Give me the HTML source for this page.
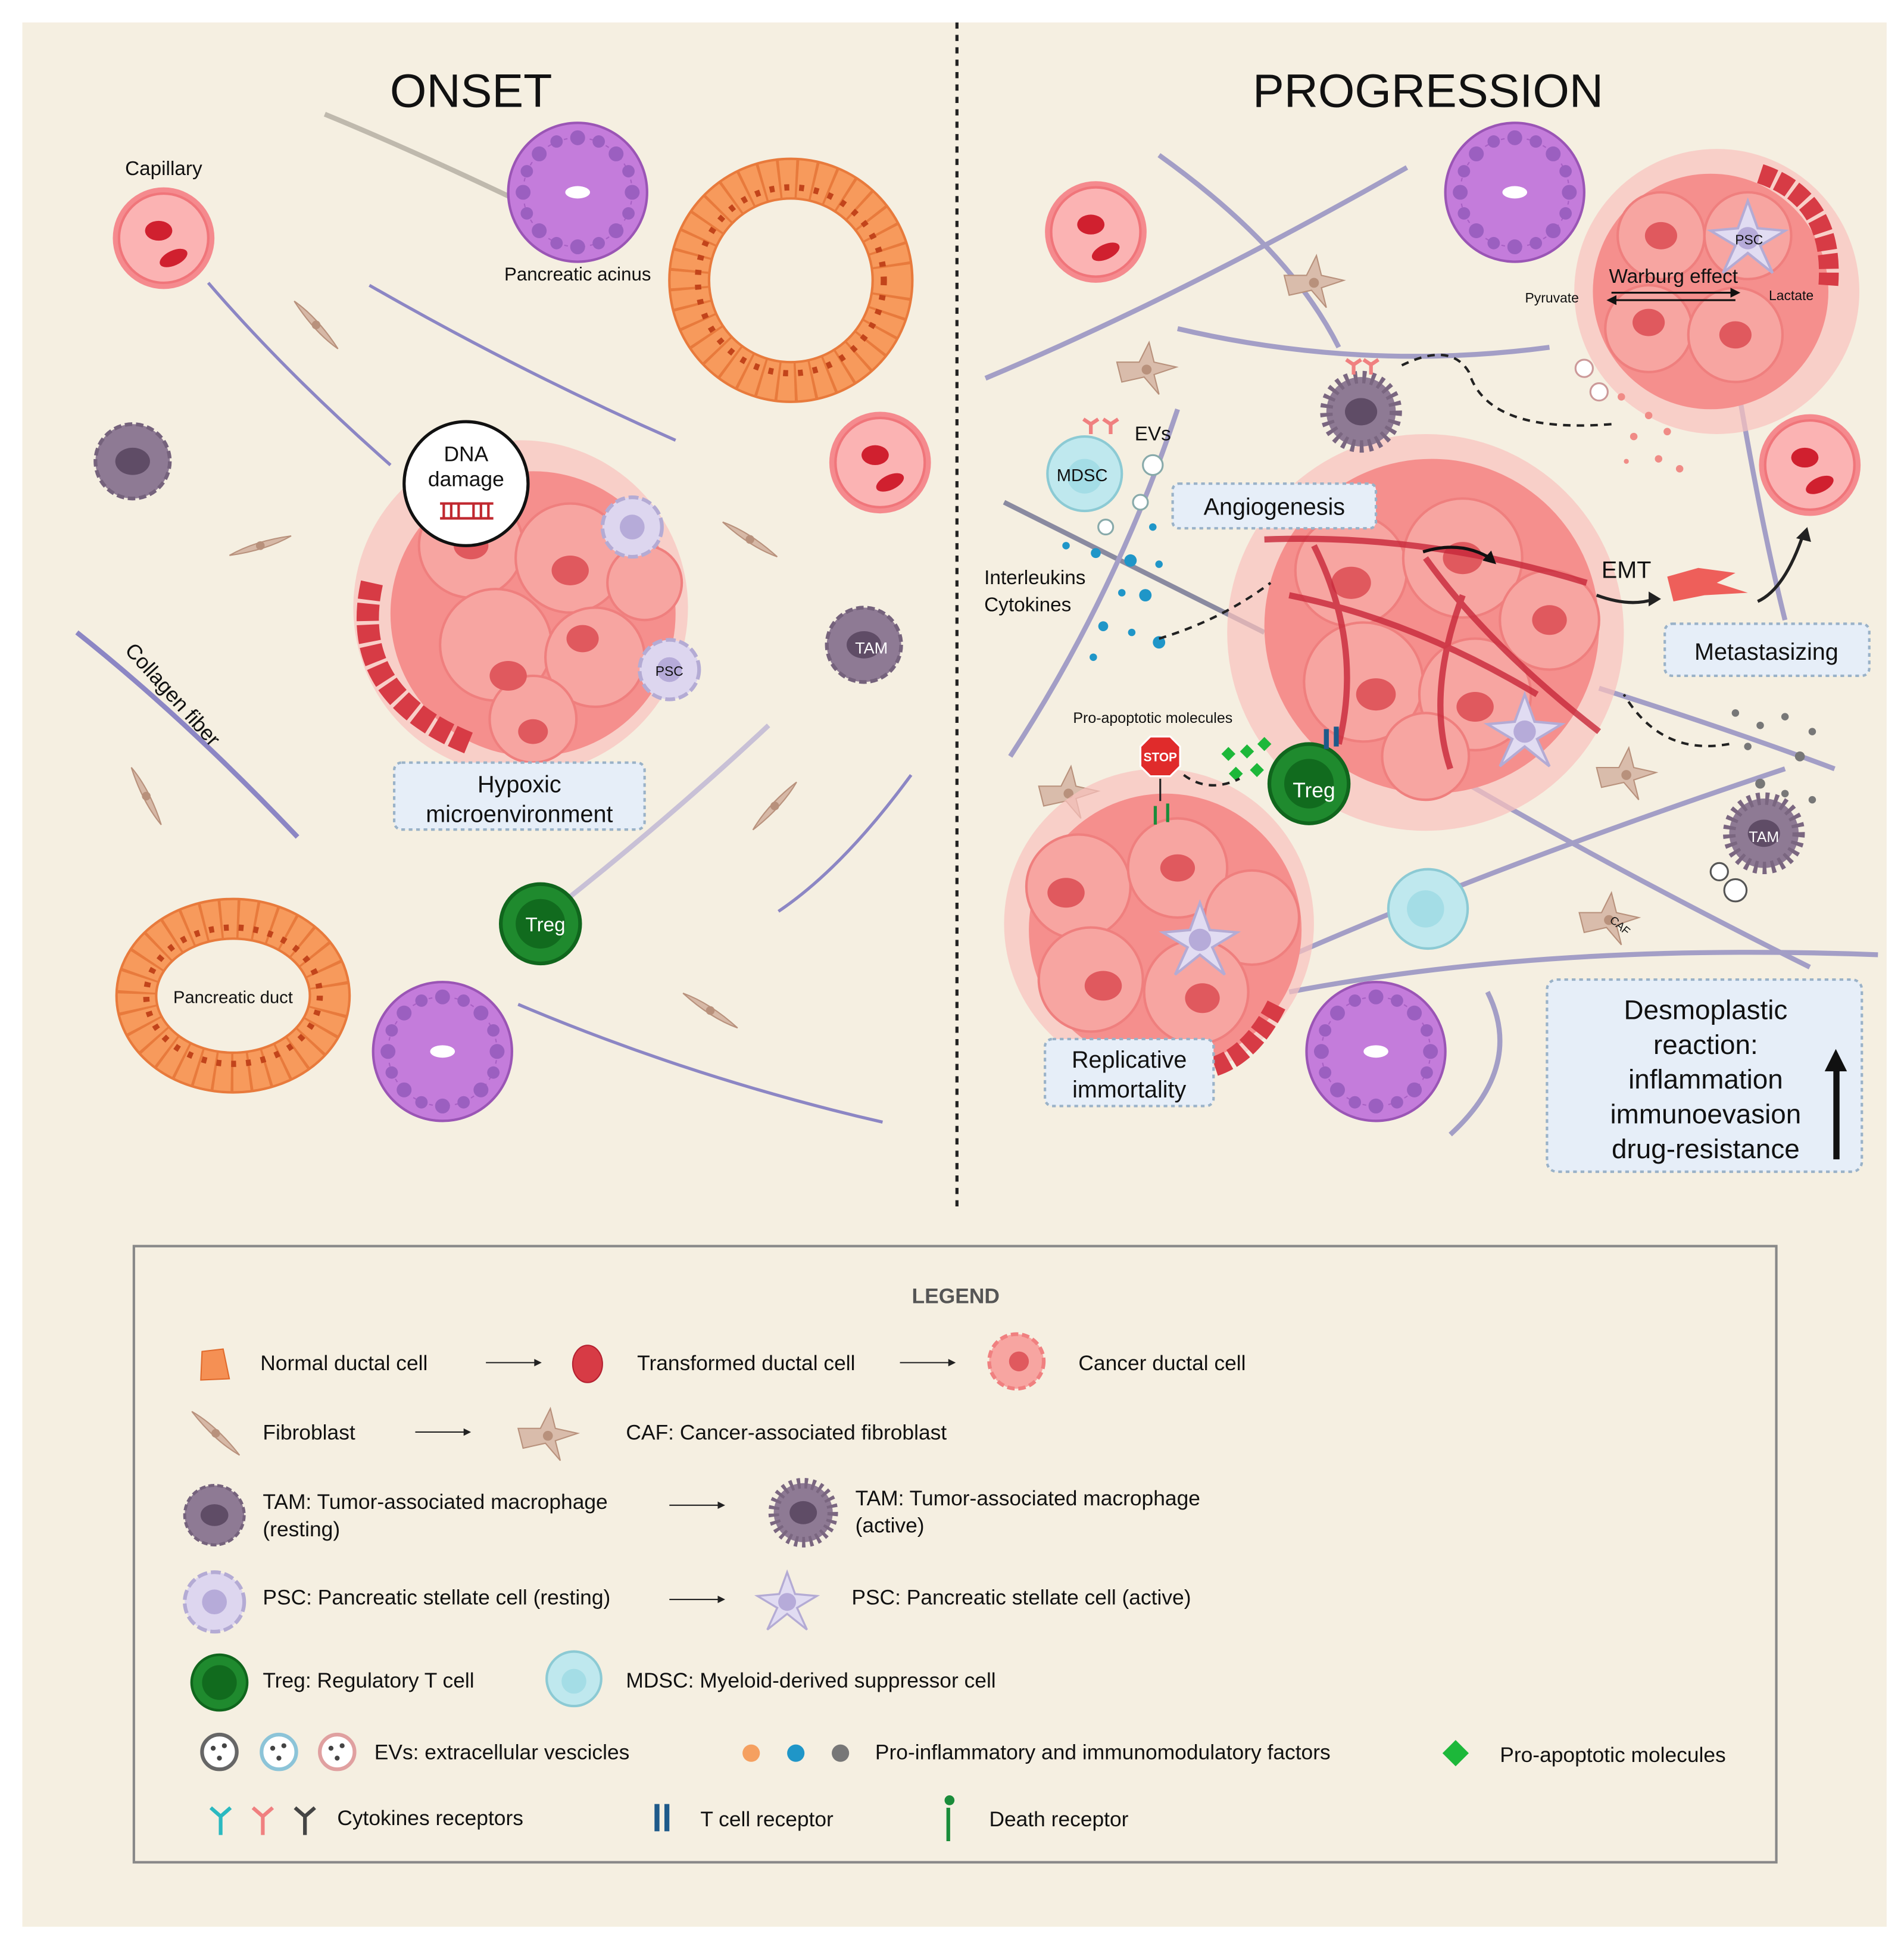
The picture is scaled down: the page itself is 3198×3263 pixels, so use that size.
<!DOCTYPE html>
<html><head><meta charset="utf-8"><style>
html,body{margin:0;padding:0;background:#fff}
svg{display:block}
text{font-family:"Liberation Sans",sans-serif;fill:#111}
</style></head><body>
<svg width="3198" height="3263" viewBox="0 0 1536 1567" xmlns="http://www.w3.org/2000/svg">
<defs>
<g id="acinus">
<circle r="56" fill="#c47cdb" stroke="#9a55b5" stroke-width="2"/>
<circle r="44" fill="none" stroke="#a860c4" stroke-width="1" stroke-dasharray="3 4"/>
<g fill="#9b5fc0">
<circle cx="0" cy="-44" r="6"/><circle cx="31" cy="-31" r="6"/><circle cx="44" cy="0" r="6"/><circle cx="31" cy="31" r="6"/>
<circle cx="0" cy="44" r="6"/><circle cx="-31" cy="31" r="6"/><circle cx="-44" cy="0" r="6"/><circle cx="-31" cy="-31" r="6"/>
<circle cx="17" cy="-41" r="5"/><circle cx="41" cy="-17" r="5"/><circle cx="41" cy="17" r="5"/><circle cx="17" cy="41" r="5"/>
<circle cx="-17" cy="41" r="5"/><circle cx="-41" cy="17" r="5"/><circle cx="-41" cy="-17" r="5"/><circle cx="-17" cy="-41" r="5"/>
</g>
<ellipse rx="10" ry="5" fill="#fff"/>
</g>
<g id="cap">
<circle r="41" fill="#f58a8e"/>
<circle r="36" fill="#fbb3b3" stroke="#f0757a" stroke-width="2"/>
<ellipse cx="-4" cy="-6" rx="11" ry="8" fill="#d0202f"/>
<ellipse cx="8" cy="16" rx="12" ry="6" fill="#d0202f" transform="rotate(-25 8 16)"/>
</g>
<g id="fib">
<path d="M-22 -14 Q0 -6 22 14 Q0 6 -22 -14Z" fill="#d6b8a6" stroke="#b8917c" stroke-width="1"/>
<circle r="3.5" fill="#b8917c"/>
</g>
<g id="caf">
<path d="M-24 -6 L-6 -6 L2 -22 L6 -6 L24 -2 L6 4 L10 20 L-2 6 L-20 10 Z" fill="#d9bcab" stroke="#b8917c" stroke-width="1"/>
<circle r="4" fill="#b8917c"/>
</g>
<g id="tamr">
<circle r="30" fill="#8e7a94" stroke="#75627c" stroke-width="3" stroke-dasharray="6 3"/>
<ellipse rx="14" ry="11" fill="#5f4c66"/>
</g>
<g id="tama">
<circle r="28" fill="#8e7a94" stroke="#7a6680" stroke-width="10" stroke-dasharray="3 4"/>
<ellipse rx="13" ry="11" fill="#5f4c66"/>
</g>
<g id="treg">
<circle r="32" fill="#1f8a2e" stroke="#10661d" stroke-width="3"/>
<circle r="20" fill="#116b1e"/>
</g>
<g id="pscr">
<circle r="24" fill="#ddd6ef" stroke="#b4abd4" stroke-width="3" stroke-dasharray="8 3"/>
<circle r="10" fill="#b6abd9"/>
</g>
<g id="psca">
<path d="M0 -30 L8 -8 L30 -6 L10 6 L20 28 L0 12 L-20 28 L-10 6 L-30 -6 L-8 -8Z" fill="#e1dcf2" stroke="#b4abd4" stroke-width="2"/>
<circle r="9" fill="#b6abd9"/>
</g>
<g id="cancer">
<circle r="1" fill="none"/>
</g>
</defs>

<rect width="1536" height="1567" fill="#fff"/>
<rect x="18" y="18" width="1504" height="1536" fill="#f5efe1"/>
<line x1="772" y1="18" x2="772" y2="978" stroke="#222" stroke-width="2.5" stroke-dasharray="5 5"/>
<text x="380" y="86" font-size="38" text-anchor="middle">ONSET</text>
<text x="1152" y="86" font-size="38" text-anchor="middle">PROGRESSION</text>

<!-- fibers onset -->
<g fill="none" stroke="#8c86c4" stroke-width="2.5">
<path d="M168 228 Q230 300 315 375"/>
<path d="M298 230 Q420 300 545 355"/>
<path d="M62 510 Q150 580 240 675" stroke-width="4"/>
<path d="M628 735 Q680 700 735 625"/>
<path d="M418 810 Q560 870 712 905"/>
<path d="M262 92 Q330 120 410 158" stroke="#bfb9ad" stroke-width="4"/>
<path d="M445 735 Q540 660 620 585" stroke="#c8c0d6" stroke-width="4"/>
</g>
<!-- fibers progression -->
<g fill="none" stroke="#a39ec6" stroke-width="4">
<path d="M795 305 Q950 240 1135 135"/>
<path d="M935 125 Q1040 200 1080 280"/>
<path d="M950 265 Q1100 300 1250 280"/>
<path d="M810 405 Q900 450 1020 510" stroke="#8a8aa0"/>
<path d="M815 610 Q900 480 950 330"/>
<path d="M1020 780 Q1200 700 1440 620"/>
<path d="M1040 800 Q1250 760 1515 770"/>
<path d="M1180 630 Q1300 700 1460 780"/>
<path d="M1200 800 Q1230 860 1170 915"/>
<path d="M1290 555 Q1400 590 1480 620"/>
<path d="M1400 300 Q1420 420 1440 500"/>
</g>

<!-- acini -->
<use href="#acinus" x="466" y="155"/>
<use href="#acinus" x="1222" y="155"/>
<use href="#acinus" x="357" y="848"/>
<use href="#acinus" x="1110" y="848"/>
<text x="466" y="226" font-size="15" text-anchor="middle">Pancreatic acinus</text>

<!-- ducts -->
<circle cx="638" cy="226" r="82" fill="none" stroke="#e87a3c" stroke-width="34"/>
<circle cx="638" cy="226" r="82" fill="none" stroke="#f79a5c" stroke-width="30" stroke-dasharray="12 2"/>
<circle cx="638" cy="226" r="75" fill="none" stroke="#c2441b" stroke-width="5" stroke-dasharray="4 8"/>
<ellipse cx="188" cy="803" rx="78" ry="62" fill="none" stroke="#e87a3c" stroke-width="34"/>
<ellipse cx="188" cy="803" rx="78" ry="62" fill="none" stroke="#f79a5c" stroke-width="30" stroke-dasharray="12 2"/>
<ellipse cx="188" cy="803" rx="70" ry="55" fill="none" stroke="#c2441b" stroke-width="5" stroke-dasharray="4 8"/>
<text x="188" y="809" font-size="14" text-anchor="middle">Pancreatic duct</text>

<!-- capillaries -->
<use href="#cap" x="132" y="192"/>
<use href="#cap" x="710" y="373"/>
<use href="#cap" x="884" y="187"/>
<use href="#cap" x="1460" y="375"/>
<text x="132" y="141" font-size="16" text-anchor="middle">Capillary</text>

<!-- fibroblasts onset -->
<use href="#fib" x="255" y="262" transform="rotate(15 255 262)"/>
<use href="#fib" x="210" y="440" transform="rotate(-50 210 440)"/>
<use href="#fib" x="605" y="435"/>
<use href="#fib" x="118" y="642" transform="rotate(30 118 642)"/>
<use href="#fib" x="625" y="650" transform="rotate(-80 625 650)"/>
<use href="#fib" x="573" y="815"/>
<!-- caf progression -->
<use href="#caf" x="1060" y="228"/>
<use href="#caf" x="925" y="298"/>
<use href="#caf" x="862" y="640"/>
<use href="#caf" x="1312" y="625"/>
<use href="#caf" x="1298" y="742"/>

<use href="#tamr" x="107" y="372"/>
<use href="#tamr" x="697" y="520"/>
<text x="703" y="527" font-size="13" fill="#fff" text-anchor="middle" style="fill:#fff">TAM</text>

<text x="100" y="525" font-size="17" transform="rotate(48 100 525)">Collagen fiber</text>

<!-- onset cluster -->
<g>
<circle cx="420" cy="490" r="135" fill="#f9c2bd" opacity="0.7"/>
<circle cx="430" cy="495" r="115" fill="#f58f8d"/>
<g fill="#f7a5a1" stroke="#ef7f7e" stroke-width="2">
<circle cx="380" cy="440" r="42"/><circle cx="460" cy="450" r="44"/><circle cx="400" cy="520" r="45"/><circle cx="480" cy="530" r="40"/><circle cx="430" cy="580" r="35"/><circle cx="520" cy="470" r="30"/>
</g>
<g fill="#e0595e"><ellipse cx="380" cy="440" rx="14" ry="11"/><ellipse cx="460" cy="460" rx="15" ry="12"/><ellipse cx="410" cy="545" rx="15" ry="12"/><ellipse cx="470" cy="515" rx="13" ry="11"/><ellipse cx="430" cy="590" rx="12" ry="10"/></g>
<path d="M300 470 Q280 560 380 600" fill="none" stroke="#d73b45" stroke-width="18" stroke-dasharray="14 3"/>
</g>
<use href="#pscr" x="510" y="425"/>
<use href="#pscr" x="540" y="540"/>
<text x="540" y="545" font-size="11" text-anchor="middle">PSC</text>
<circle cx="376" cy="390" r="50" fill="#fff" stroke="#111" stroke-width="2.5"/>
<text x="376" y="372" font-size="17" text-anchor="middle">DNA</text>
<text x="376" y="392" font-size="17" text-anchor="middle">damage</text>
<g stroke="#c0282f" stroke-width="2"><line x1="355" y1="406" x2="398" y2="406"/><line x1="355" y1="418" x2="398" y2="418"/><line x1="358" y1="406" x2="358" y2="418"/><line x1="364" y1="406" x2="364" y2="418"/><line x1="370" y1="406" x2="370" y2="418"/><line x1="382" y1="406" x2="382" y2="418"/><line x1="388" y1="406" x2="388" y2="418"/><line x1="394" y1="406" x2="394" y2="418"/></g>
<rect x="318" y="615" width="202" height="54" rx="6" fill="#e6eef8" stroke="#9ab2c8" stroke-width="2" stroke-dasharray="3 3"/>
<text x="419" y="639" font-size="19" text-anchor="middle">Hypoxic</text>
<text x="419" y="663" font-size="19" text-anchor="middle">microenvironment</text>
<use href="#treg" x="436" y="745"/>
<text x="440" y="751" font-size="16" style="fill:#fff" text-anchor="middle">Treg</text>

<!-- progression main cluster -->
<g>
<circle cx="1150" cy="510" r="160" fill="#f9c2bd" opacity="0.7"/>
<circle cx="1155" cy="505" r="135" fill="#f58f8d"/>
<g fill="#f7a5a1" stroke="#ef7f7e" stroke-width="2">
<circle cx="1090" cy="460" r="45"/><circle cx="1180" cy="450" r="48"/><circle cx="1250" cy="500" r="40"/><circle cx="1100" cy="550" r="48"/><circle cx="1190" cy="560" r="45"/><circle cx="1150" cy="610" r="35"/>
</g>
<g fill="#e0595e"><ellipse cx="1090" cy="470" rx="16" ry="13"/><ellipse cx="1180" cy="450" rx="16" ry="13"/><ellipse cx="1250" cy="500" rx="14" ry="12"/><ellipse cx="1110" cy="560" rx="16" ry="13"/><ellipse cx="1190" cy="570" rx="15" ry="12"/></g>
<g fill="none" stroke="#c8283a" stroke-width="5" opacity="0.8">
<path d="M1020 435 Q1150 430 1280 470"/><path d="M1060 440 Q1100 520 1080 600"/><path d="M1150 450 Q1200 520 1290 590"/><path d="M1040 480 Q1140 500 1240 560"/><path d="M1180 480 Q1150 560 1170 620"/>
</g>
</g>
<use href="#psca" x="1230" y="590"/>
<rect x="946" y="390" width="164" height="36" rx="5" fill="#e6eef8" stroke="#9ab2c8" stroke-width="2" stroke-dasharray="3 3"/>
<text x="1028" y="415" font-size="19" text-anchor="middle">Angiogenesis</text>
<path d="M1148 445 Q1180 435 1205 452" fill="none" stroke="#111" stroke-width="2.5"/>
<polygon points="1207,455 1196,452 1203,444" fill="#111"/>

<!-- warburg cluster -->
<g>
<circle cx="1385" cy="235" r="115" fill="#f9c2bd" opacity="0.7"/>
<circle cx="1380" cy="235" r="95" fill="#f58f8d"/>
<g fill="#f7a5a1" stroke="#ef7f7e" stroke-width="2">
<circle cx="1340" cy="190" r="35"/><circle cx="1410" cy="190" r="35"/><circle cx="1330" cy="265" r="35"/><circle cx="1400" cy="270" r="38"/>
</g>
<g fill="#e0595e"><ellipse cx="1340" cy="190" rx="13" ry="11"/><ellipse cx="1330" cy="260" rx="13" ry="11"/><ellipse cx="1400" cy="270" rx="13" ry="11"/></g>
<path d="M1420 140 Q1480 160 1475 230" fill="none" stroke="#d73b45" stroke-width="16" stroke-dasharray="12 3"/>
</g>
<use href="#psca" x="1410" y="192"/>
<text x="1411" y="197" font-size="11" text-anchor="middle">PSC</text>
<text x="1350" y="228" font-size="16" text-anchor="middle">Warburg effect</text>
<text x="1252" y="244" font-size="11" text-anchor="middle">Pyruvate</text>
<text x="1445" y="242" font-size="11" text-anchor="middle">Lactate</text>
<line x1="1300" y1="236" x2="1400" y2="236" stroke="#111" stroke-width="1.5"/>
<line x1="1300" y1="242" x2="1400" y2="242" stroke="#111" stroke-width="1.5"/>
<polygon points="1404,236 1396,232 1396,240" fill="#111"/>
<polygon points="1296,242 1304,238 1304,246" fill="#111"/>

<!-- replicative cluster -->
<g>
<circle cx="935" cy="745" r="125" fill="#f9c2bd" opacity="0.7"/>
<circle cx="940" cy="750" r="110" fill="#f58f8d"/>
<g fill="#f7a5a1" stroke="#ef7f7e" stroke-width="2">
<circle cx="870" cy="715" r="42"/><circle cx="950" cy="700" r="40"/><circle cx="1010" cy="740" r="38"/><circle cx="880" cy="790" r="42"/><circle cx="965" cy="800" r="42"/>
</g>
<g fill="#e0595e"><ellipse cx="860" cy="720" rx="15" ry="12"/><ellipse cx="950" cy="700" rx="14" ry="11"/><ellipse cx="890" cy="795" rx="15" ry="12"/><ellipse cx="970" cy="805" rx="14" ry="12"/></g>
<path d="M980 860 Q1010 850 1030 810" fill="none" stroke="#d73b45" stroke-width="16" stroke-dasharray="12 3"/>
</g>
<use href="#psca" x="968" y="758"/>
<rect x="843" y="838" width="136" height="54" rx="6" fill="#e6eef8" stroke="#9ab2c8" stroke-width="2" stroke-dasharray="3 3"/>
<text x="911" y="861" font-size="19" text-anchor="middle">Replicative</text>
<text x="911" y="885" font-size="19" text-anchor="middle">immortality</text>

<!-- other progression cells -->
<use href="#tama" x="1098" y="332"/>
<use href="#tama" x="1423" y="672"/>
<text x="1423" y="679" font-size="12" style="fill:#fff" text-anchor="middle">TAM</text>
<g stroke="#f08080" stroke-width="3" fill="none"><path d="M1092 302 v-10 M1086 290 l6 4 6 -4 M1106 302 v-10 M1100 290 l6 4 6 -4"/><path d="M880 350 v-10 M874 338 l6 4 6 -4 M896 350 v-10 M890 338 l6 4 6 -4"/></g>
<circle cx="875" cy="382" r="30" fill="#bfe8ee" stroke="#8ccad4" stroke-width="2"/>
<circle cx="875" cy="384" r="14" fill="#a4dde6"/>
<text x="873" y="388" font-size="14" text-anchor="middle">MDSC</text>
<text x="930" y="355" font-size="16" text-anchor="middle">EVs</text>
<circle cx="1152" cy="733" r="32" fill="#bfe8ee" stroke="#8ccad4" stroke-width="2"/>
<circle cx="1150" cy="733" r="15" fill="#a4dde6"/>
<use href="#treg" x="1056" y="632"/>
<text x="1060" y="643" font-size="17" style="fill:#fff" text-anchor="middle">Treg</text>
<g fill="#111"><rect x="1068" y="588" width="4" height="16" fill="#1e5a8a"/><rect x="1076" y="586" width="4" height="16" fill="#1e5a8a"/></g>

<!-- EVs small -->
<g fill="#fff" stroke="#8aa" stroke-width="1.5">
<circle cx="930" cy="375" r="8"/><circle cx="920" cy="405" r="6"/><circle cx="892" cy="425" r="6"/>
<circle cx="1278" cy="297" r="7" stroke="#c99"/><circle cx="1290" cy="316" r="7" stroke="#c99"/>
<circle cx="1387" cy="703" r="7" stroke="#555"/><circle cx="1400" cy="718" r="9" stroke="#555"/>
</g>
<!-- factors -->
<g fill="#1f96c8">
<circle cx="860" cy="440" r="3"/><circle cx="884" cy="446" r="4"/><circle cx="912" cy="452" r="5"/><circle cx="935" cy="455" r="3"/><circle cx="905" cy="478" r="3"/><circle cx="924" cy="480" r="5"/><circle cx="890" cy="505" r="4"/><circle cx="913" cy="510" r="3"/><circle cx="935" cy="518" r="5"/><circle cx="882" cy="530" r="3"/><circle cx="930" cy="425" r="3"/>
</g>
<g fill="#f08b86">
<circle cx="1308" cy="320" r="3"/><circle cx="1330" cy="335" r="3"/><circle cx="1318" cy="352" r="3"/><circle cx="1345" cy="348" r="3"/><circle cx="1338" cy="370" r="3"/><circle cx="1355" cy="378" r="3"/><circle cx="1312" cy="372" r="2"/>
</g>
<g fill="#777">
<circle cx="1400" cy="575" r="3"/><circle cx="1420" cy="585" r="3"/><circle cx="1440" cy="578" r="3"/><circle cx="1462" cy="590" r="3"/><circle cx="1410" cy="602" r="3"/><circle cx="1452" cy="610" r="4"/><circle cx="1420" cy="632" r="4"/><circle cx="1440" cy="640" r="3"/><circle cx="1462" cy="645" r="3"/>
</g>
<g fill="#1db83a">
<rect x="987" y="604" width="8" height="8" transform="rotate(45 991 608)"/><rect x="1002" y="602" width="8" height="8" transform="rotate(45 1006 606)"/><rect x="1016" y="596" width="8" height="8" transform="rotate(45 1020 600)"/><rect x="993" y="620" width="8" height="8" transform="rotate(45 997 624)"/><rect x="1010" y="617" width="8" height="8" transform="rotate(45 1014 621)"/>
</g>
<!-- dashed arrows -->
<g fill="none" stroke="#222" stroke-width="2" stroke-dasharray="6 5">
<path d="M935 515 Q985 500 1025 470"/>
<path d="M1300 342 Q1200 350 1185 300 Q1170 275 1130 295"/>
<path d="M1395 600 Q1340 610 1310 560"/>
<path d="M955 625 Q975 640 1000 628"/>
</g>
<path d="M1288 480 Q1315 490 1335 483" fill="none" stroke="#222" stroke-width="2.5"/>
<polygon points="1340,483 1330,477 1330,489" fill="#222"/>
<path d="M1418 485 Q1440 475 1455 430" fill="none" stroke="#222" stroke-width="2.5"/>
<polygon points="1458,425 1449,434 1461,437" fill="#222"/>
<path d="M1345 465 L1370 458 L1400 462 L1385 470 L1410 478 L1375 480 L1350 485Z" fill="#ee5f5a"/>
<text x="1312" y="466" font-size="19" text-anchor="middle">EMT</text>
<text x="794" y="471" font-size="16">Interleukins</text>
<text x="794" y="493" font-size="16">Cytokines</text>
<text x="930" y="583" font-size="12" text-anchor="middle">Pro-apoptotic molecules</text>
<polygon points="928,594 944,594 952,602 952,618 944,626 928,626 920,618 920,602" fill="#e02b2b" stroke="#fff" stroke-width="1.5"/>
<text x="936" y="614" font-size="10" font-weight="bold" style="fill:#fff" text-anchor="middle">STOP</text>
<path d="M936 628 v18" stroke="#222" stroke-width="1.5"/>
<g stroke="#1a8c3a" stroke-width="2.5"><line x1="932" y1="650" x2="932" y2="665"/><line x1="942" y1="648" x2="942" y2="663"/></g>
<rect x="1343" y="503" width="165" height="42" rx="6" fill="#e6eef8" stroke="#9ab2c8" stroke-width="2" stroke-dasharray="3 3"/>
<text x="1425" y="532" font-size="19" text-anchor="middle">Metastasizing</text>
<rect x="1248" y="790" width="254" height="155" rx="8" fill="#e6eef8" stroke="#9ab2c8" stroke-width="2" stroke-dasharray="3 3"/>
<g font-size="22" text-anchor="middle">
<text x="1376" y="822">Desmoplastic</text><text x="1376" y="850">reaction:</text><text x="1376" y="878">inflammation</text><text x="1376" y="906">immunoevasion</text><text x="1376" y="934">drug-resistance</text></g>
<rect x="1479" y="860" width="5" height="75" fill="#111"/>
<polygon points="1481,846 1472,864 1490,864" fill="#111"/>
<text x="1298" y="743" font-size="9" transform="rotate(40 1298 743)">CAF</text>

<!-- legend -->
<rect x="108" y="1005" width="1325" height="497" fill="none" stroke="#888" stroke-width="2"/>
<text x="771" y="1051" font-size="17" font-weight="bold" text-anchor="middle" style="fill:#555">LEGEND</text>
<g font-size="17">
<path d="M163 1090 L180 1088 L185 1112 L162 1113Z" fill="#f59054" stroke="#e06a2c"/>
<text x="210" y="1105">Normal ductal cell</text>
<line x1="392" y1="1099" x2="435" y2="1099" stroke="#222"/><polygon points="437,1099 431,1096 431,1102" fill="#222"/>
<ellipse cx="474" cy="1100" rx="12" ry="15" fill="#d73b45" stroke="#b42030"/>
<text x="514" y="1105">Transformed ductal cell</text>
<line x1="726" y1="1099" x2="769" y2="1099" stroke="#222"/><polygon points="771,1099 765,1096 765,1102" fill="#222"/>
<circle cx="820" cy="1098" r="22" fill="#f7a5a1" stroke="#f08080" stroke-width="3" stroke-dasharray="6 3"/><circle cx="822" cy="1098" r="8" fill="#e0595e"/>
<text x="870" y="1105">Cancer ductal cell</text>

<use href="#fib" x="174" y="1156" transform="rotate(10 174 1156)"/>
<text x="212" y="1161">Fibroblast</text>
<line x1="335" y1="1155" x2="378" y2="1155" stroke="#222"/><polygon points="380,1155 374,1152 374,1158" fill="#222"/>
<use href="#caf" x="442" y="1158"/>
<text x="505" y="1161">CAF: Cancer-associated fibroblast</text>

<use href="#tamr" x="173" y="1222" transform="translate(173 1222) scale(0.8) translate(-173 -1222)"/>
<text x="212" y="1217">TAM: Tumor-associated macrophage</text>
<text x="212" y="1239">(resting)</text>
<line x1="540" y1="1214" x2="583" y2="1214" stroke="#222"/><polygon points="585,1214 579,1211 579,1217" fill="#222"/>
<use href="#tama" x="648" y="1220" transform="translate(648 1220) scale(0.85) translate(-648 -1220)"/>
<text x="690" y="1214">TAM: Tumor-associated macrophage</text>
<text x="690" y="1236">(active)</text>

<use href="#pscr" x="173" y="1292"/>
<text x="212" y="1294">PSC: Pancreatic stellate cell (resting)</text>
<line x1="540" y1="1290" x2="583" y2="1290" stroke="#222"/><polygon points="585,1290 579,1287 579,1293" fill="#222"/>
<use href="#psca" x="635" y="1292" transform="translate(635 1292) scale(0.8) translate(-635 -1292)"/>
<text x="687" y="1294">PSC: Pancreatic stellate cell (active)</text>

<use href="#treg" x="177" y="1357" transform="translate(177 1357) scale(0.7) translate(-177 -1357)"/>
<text x="212" y="1361">Treg: Regulatory T cell</text>
<circle cx="463" cy="1354" r="22" fill="#bfe8ee" stroke="#8ccad4" stroke-width="2"/><circle cx="463" cy="1356" r="10" fill="#a4dde6"/>
<text x="505" y="1361">MDSC: Myeloid-derived suppressor cell</text>

<circle cx="177" cy="1413" r="14" fill="#fff" stroke="#666" stroke-width="3"/>
<circle cx="225" cy="1413" r="14" fill="#fff" stroke="#8cc4d8" stroke-width="3"/>
<circle cx="272" cy="1413" r="14" fill="#fff" stroke="#e0a0a0" stroke-width="3"/>
<g fill="#444"><circle cx="172" cy="1410" r="2"/><circle cx="181" cy="1408" r="2"/><circle cx="177" cy="1418" r="2"/><circle cx="220" cy="1410" r="2"/><circle cx="229" cy="1408" r="2"/><circle cx="225" cy="1418" r="2"/><circle cx="267" cy="1410" r="2"/><circle cx="276" cy="1408" r="2"/><circle cx="272" cy="1418" r="2"/></g>
<text x="302" y="1419">EVs: extracellular vescicles</text>
<circle cx="606" cy="1414" r="7" fill="#f5a060"/><circle cx="642" cy="1414" r="7" fill="#1f96c8"/><circle cx="678" cy="1414" r="7" fill="#777"/>
<text x="706" y="1419">Pro-inflammatory and immunomodulatory factors</text>
<rect x="1167" y="1407" width="15" height="15" fill="#1db83a" transform="rotate(45 1175 1414)"/>
<text x="1210" y="1421">Pro-apoptotic molecules</text>

<g stroke-width="3" fill="none"><path d="M178 1480 v-16 M170 1458 l8 7 8 -7" stroke="#2bb9c0"/><path d="M212 1480 v-16 M204 1458 l8 7 8 -7" stroke="#f08080"/><path d="M246 1480 v-16 M238 1458 l8 7 8 -7" stroke="#444"/></g>
<text x="272" y="1472">Cytokines receptors</text>
<rect x="528" y="1455" width="4" height="22" fill="#1e5a8a"/><rect x="536" y="1455" width="4" height="22" fill="#1e5a8a"/>
<text x="565" y="1473">T cell receptor</text>
<line x1="765" y1="1458" x2="765" y2="1485" stroke="#1a8c3a" stroke-width="3"/><circle cx="766" cy="1452" r="4" fill="#1a8c3a"/>
<text x="798" y="1473">Death receptor</text>
</g>
</svg>
</body></html>
